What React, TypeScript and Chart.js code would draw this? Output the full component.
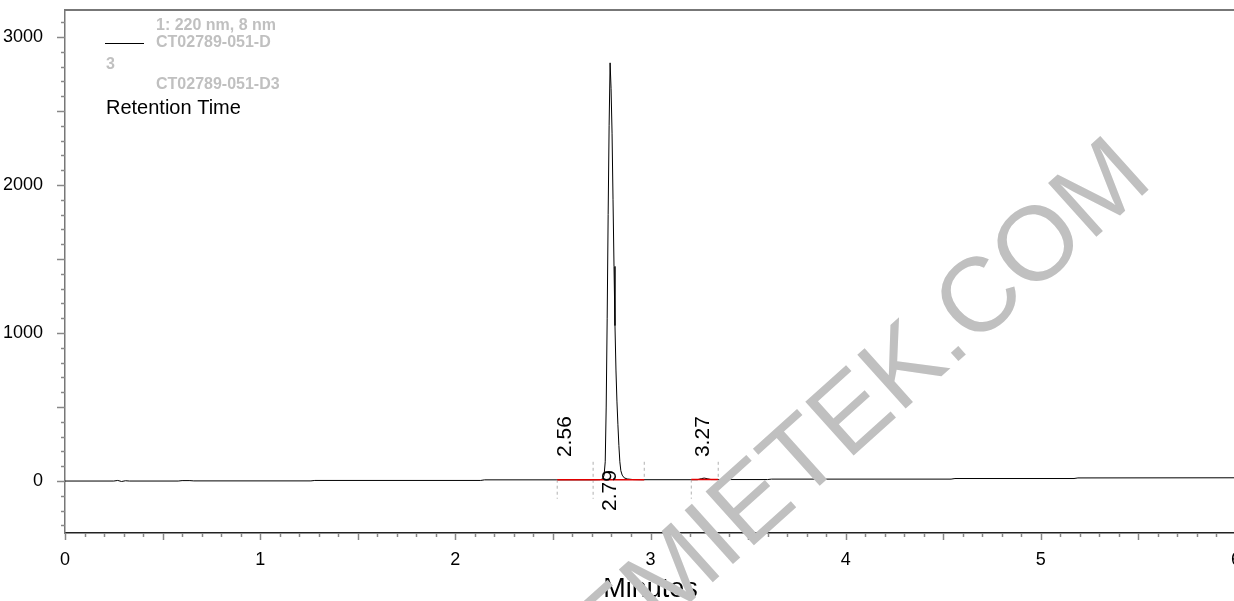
import React, { useEffect, useRef } from "react";
import { Chart, registerables } from "chart.js";

Chart.register(...registerables);

// ---- data ----
const traceTimes = [
  0, 0.25, 0.27, 0.29, 0.31, 0.33, 0.58, 0.6, 0.64, 0.66, 1.26, 1.28, 2.13, 2.15, 2.7, 2.74,
  2.755, 2.762, 2.768, 2.773, 2.778, 2.783, 2.788, 2.793, 2.798, 2.803, 2.808, 2.813, 2.818,
  2.823, 2.828, 2.833, 2.838, 2.843, 2.848, 2.855, 2.865, 2.88, 2.91, 2.95, 3.24, 3.26, 3.275,
  3.29, 3.31, 3.6, 3.62, 4.54, 4.56, 5.17, 5.19, 6.0,
];
const traceValues = [
  0, 0, 4, -3, 2, 0, 0, 3, 3, 1, 1, 4, 4, 8, 8, 9,
  14, 38, 130, 500, 1100, 1800, 2400, 2825, 2650, 2350, 1900, 1450, 1050,
  750, 540, 380, 240, 130, 70, 40, 22, 14, 10, 9, 9, 16, 20,
  16, 10, 10, 13, 13, 17, 17, 21, 22,
];

const baselineStart = [2.522, 3.209];
const baselineEnd = [2.968, 3.347];
const baselineLevel = [9, 10];

const markerTimes = [2.522, 2.706, 2.968, 3.209, 3.347];
const markerTop = [9, 130, 130, 10, 130];
const markerBottom = [-120, -120, 9, -120, 10];

const peakLabels = ["2.56", "2.79", "3.27"];
const peakLabelTimes = [2.562, 2.793, 3.27];
const peakLabelValues = [162, 74, 162];
const peakLabelAlign: CanvasTextAlign[] = ["left", "right", "left"];

const xTickValues = [0, 1, 2, 3, 4, 5, 6];
const yTickValues = [0, 1000, 2000, 3000];
const xMin = 0;
const xMax = 6;
const yMin = -351;
const yMax = 3182;

const legendGray = ["1: 220 nm, 8 nm", "CT02789-051-D", "3", "CT02789-051-D3"];
const legendTitle = "Retention Time";
const axisTitle = "Minutes";
const watermark = "CHEMIETEK.COM";

const FONT = "Arial, 'Liberation Sans', Helvetica, sans-serif";

const decorPlugin = {
  id: "decor",
  afterDraw(chart: any) {
    const ctx: CanvasRenderingContext2D = chart.ctx;
    const xs = chart.scales.x;
    const ys = chart.scales.y;
    const area = chart.chartArea;
    ctx.save();

    // top frame
    ctx.strokeStyle = "#777";
    ctx.lineWidth = 2;
    ctx.beginPath();
    ctx.moveTo(area.left, area.top);
    ctx.lineTo(area.right + 20, area.top);
    ctx.stroke();

    // x ticks
    ctx.strokeStyle = "#888";
    ctx.lineWidth = 1.5;
    for (let i = 0; i <= 60; i++) {
      const v = i / 10;
      const px = Math.round(xs.getPixelForValue(v)) + 0.5;
      const len = i % 5 === 0 ? 7 : 4;
      ctx.beginPath();
      ctx.moveTo(px, area.bottom);
      ctx.lineTo(px, area.bottom + len);
      ctx.stroke();
    }
    // y ticks
    for (let v = -300; v <= 3100; v += 100) {
      const py = Math.round(ys.getPixelForValue(v)) + 0.5;
      const len = v % 500 === 0 ? 8 : 4;
      ctx.beginPath();
      ctx.moveTo(area.left, py);
      ctx.lineTo(area.left - len, py);
      ctx.stroke();
    }

    // legend
    ctx.textBaseline = "middle";
    ctx.textAlign = "left";
    ctx.fillStyle = "#c0c0c0";
    ctx.font = `bold 16px ${FONT}`;
    ctx.fillText(legendGray[0], 156, 26);
    ctx.fillText(legendGray[1], 156, 43);
    ctx.fillText(legendGray[2], 106, 65);
    ctx.fillText(legendGray[3], 156, 85);
    ctx.strokeStyle = "#000";
    ctx.lineWidth = 1;
    ctx.beginPath();
    ctx.moveTo(105, 43.5);
    ctx.lineTo(144, 43.5);
    ctx.stroke();
    ctx.fillStyle = "#000";
    ctx.font = `20px ${FONT}`;
    ctx.fillText(legendTitle, 106, 108);

    // peak labels
    ctx.font = `21px ${FONT}`;
    ctx.fillStyle = "#000";
    for (let i = 0; i < peakLabels.length; i++) {
      const px = xs.getPixelForValue(peakLabelTimes[i]);
      const py = ys.getPixelForValue(peakLabelValues[i]);
      ctx.save();
      ctx.translate(px, py);
      ctx.rotate(-Math.PI / 2);
      ctx.textAlign = peakLabelAlign[i];
      ctx.textBaseline = "middle";
      ctx.fillText(peakLabels[i], 0, 0);
      ctx.restore();
    }

    // axis title
    ctx.font = `27px ${FONT}`;
    ctx.fillStyle = "#000";
    ctx.textAlign = "center";
    ctx.textBaseline = "alphabetic";
    ctx.fillText(axisTitle, (area.left + area.right) / 2, 597);

    // watermark
    ctx.save();
    ctx.translate(1155, 184);
    ctx.rotate((-42 * Math.PI) / 180);
    ctx.font = `105px ${FONT}`;
    ctx.fillStyle = "#c0c0c0";
    ctx.textAlign = "right";
    ctx.textBaseline = "alphabetic";
    ctx.fillText(watermark, 0, 0);
    ctx.restore();

    ctx.restore();
  },
};

export default function App() {
  const canvasRef = useRef<HTMLCanvasElement | null>(null);

  useEffect(() => {
    if (!canvasRef.current) return;
    const traceData = traceTimes.map((t, i) => ({ x: t, y: traceValues[i] }));
    const redData: any[] = [];
    baselineStart.forEach((s, i) => {
      redData.push({ x: s, y: baselineLevel[i] });
      redData.push({ x: baselineEnd[i], y: baselineLevel[i] });
      redData.push({ x: baselineEnd[i], y: null });
    });
    const markerData: any[] = [];
    markerTimes.forEach((t, i) => {
      markerData.push({ x: t, y: markerTop[i] });
      markerData.push({ x: t, y: markerBottom[i] });
      markerData.push({ x: t, y: null });
    });

    const chart = new Chart(canvasRef.current, {
      type: "line",
      data: {
        datasets: [
          {
            data: redData,
            borderColor: "#e00000",
            borderWidth: 1.5,
            pointRadius: 0,
            spanGaps: false,
          },
          {
            data: markerData,
            borderColor: "#b0b0b0",
            borderWidth: 1,
            borderDash: [3, 3],
            pointRadius: 0,
            spanGaps: false,
          },
          {
            data: traceData,
            borderColor: "#000",
            borderWidth: 1,
            pointRadius: 0,
            tension: 0,
          },
        ],
      },
      options: {
        animation: false,
        responsive: false,
        maintainAspectRatio: false,
        layout: { padding: { top: 10, right: 14, left: 0, bottom: 0 } },
        plugins: { legend: { display: false }, tooltip: { enabled: false } },
        scales: {
          x: {
            type: "linear",
            min: xMin,
            max: xMax,
            afterBuildTicks: (s: any) => {
              s.ticks = xTickValues.map((v) => ({ value: v }));
            },
            afterFit: (s: any) => {
              s.height = 68;
              s.paddingLeft = 0;
              s.paddingRight = 0;
            },
            grid: { display: false },
            border: { display: true, color: "#222", width: 1.5 },
            ticks: {
              color: "#000",
              font: { family: FONT, size: 18 },
              padding: 8,
              maxRotation: 0,
              autoSkip: false,
              callback: (v: any) => String(v),
            },
          },
          y: {
            type: "linear",
            min: yMin,
            max: yMax,
            afterBuildTicks: (s: any) => {
              s.ticks = yTickValues.map((v) => ({ value: v }));
            },
            afterFit: (s: any) => {
              s.width = 65;
              s.paddingTop = 0;
              s.paddingBottom = 0;
            },
            grid: { display: false },
            border: { display: true, color: "#777", width: 1.5 },
            ticks: {
              color: "#000",
              font: { family: FONT, size: 18 },
              padding: 14,
              autoSkip: false,
              callback: (v: any) => String(v),
            },
          },
        },
      },
      plugins: [decorPlugin],
    } as any);
    return () => chart.destroy();
  }, []);

  return (
    <div
      style={{
        position: "fixed",
        left: 0,
        top: 0,
        width: 1234,
        height: 601,
        overflow: "hidden",
        background: "#fff",
      }}
    >
      <canvas ref={canvasRef} width={1250} height={601} style={{ display: "block", width: 1250, height: 601 }} />
    </div>
  );
}
